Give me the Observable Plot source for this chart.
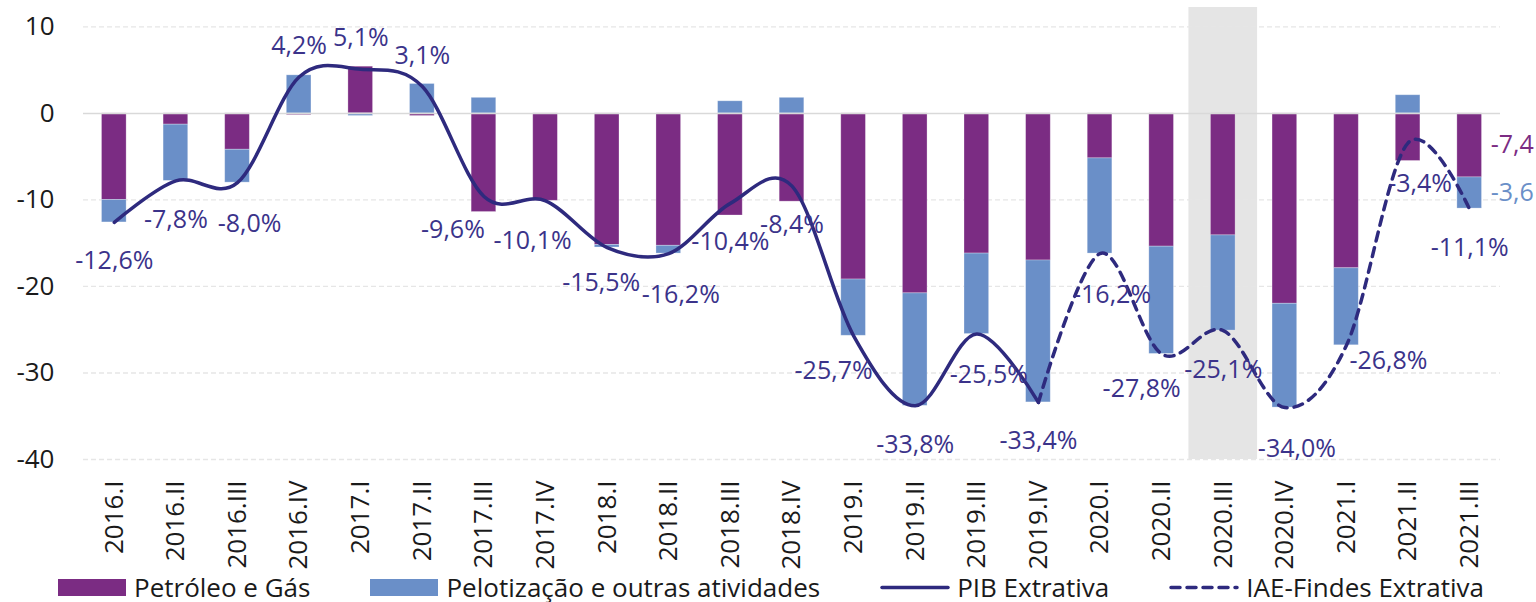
<!DOCTYPE html>
<html>
<head>
<meta charset="utf-8">
<script src="https://cdn.jsdelivr.net/npm/d3@7"></script>
<script src="https://cdn.jsdelivr.net/npm/@observablehq/plot@0.6"></script>
<style>
  html, body { margin: 0; padding: 0; background: #fff; overflow: hidden; }
  #chart svg { display: block; overflow: hidden; }
  #legend { display: flex; align-items: center; gap: 60px; padding-left: 58px; height: 30px;
            font-family: "Open Sans", sans-serif; font-size: 26px; color: #1a1a1a; white-space: nowrap; }
  #legend .item { display: flex; align-items: center; }
  #legend .sw { display: inline-block; width: 68px; height: 17px; margin-right: 8px; }
  #legend svg { margin-right: 7px; }
</style>
</head>
<body>
<div id="chart"></div>
<div id="legend"></div>
<script>
// ---- data ----
const quarters = ["2016.I","2016.II","2016.III","2016.IV","2017.I","2017.II","2017.III","2017.IV",
  "2018.I","2018.II","2018.III","2018.IV","2019.I","2019.II","2019.III","2019.IV",
  "2020.I","2020.II","2020.III","2020.IV","2021.I","2021.II","2021.III"];
const petroleoGas = [-10.0,-1.3,-4.2,-0.2,5.4,-0.3,-11.4,-10.1,-15.2,-15.3,-11.8,-10.2,
  -19.2,-20.8,-16.2,-17.0,-5.2,-15.4,-14.1,-22.0,-17.9,-5.5,-7.4];
const pelotizacao = [-2.6,-6.5,-3.8,4.4,-0.3,3.4,1.8,0.0,-0.3,-0.9,1.4,1.8,
  -6.5,-13.0,-9.3,-16.4,-11.0,-12.4,-11.0,-12.0,-8.9,2.1,-3.6];
const pibExtrativa = [-12.6,-7.8,-8.0,4.2,5.1,3.1,-9.6,-10.1,-15.5,-16.2,-10.4,-8.4,-25.7,-33.8,-25.5,-33.4];
const iaeFindesQuarters = ["2019.IV","2020.I","2020.II","2020.III","2020.IV","2021.I","2021.II","2021.III"];
const iaeFindes = [-33.4,-16.2,-27.8,-25.1,-34.0,-26.8,-3.4,-11.1];
const highlightQuarter = ["2020.III"];
const yTicks = [-40,-30,-20,-10,0,10];
// placement codes for the line's value labels (below / below-left / below-right / above / right ...)
const labelPlacement = ["b","b","br","a","a","a","L","bs","bs2","br","b","b","bl","b","br","b","br","bl","b","br","r","br","b"];

// ---- styles ----
const purple = "#7b2c83", blue = "#6a8fc8", navy = "#2e2a7e", labelColor = "#3b338a";
const yDomain = [-40, 12.24];
const placement = {b:[0,39], bl:[-20,35], L:[-31,34], bs:[-13,40], bs2:[-6,35], br:[12,41], a:[0,-31], r:[42,16]};

const bars = [];
quarters.forEach((q,i) => {
  bars.push({q, serie: "Petróleo e Gás", v: petroleoGas[i]});
  bars.push({q, serie: "Pelotização e outras atividades", v: pelotizacao[i]});
});
const pibData = pibExtrativa.map((v,i) => ({q: quarters[i], v}));
const iaeData = iaeFindes.map((v,i) => ({q: iaeFindesQuarters[i], v}));
const lineLabels = [...pibData, ...iaeData.slice(1)].map((d,i) => ({...d, p: labelPlacement[i]}));
const fmt = v => v.toFixed(1).replace(".", ",");
const last = quarters.length - 1;
const segLabels = [
  {q: quarters[last], y: petroleoGas[last]/2, t: fmt(petroleoGas[last]), c: purple},
  {q: quarters[last], y: petroleoGas[last] + pelotizacao[last]/2, t: fmt(pelotizacao[last]), c: blue}
];

const labelMarks = Object.entries(placement).map(([k,[dx,dy]]) =>
  Plot.text(lineLabels.filter(d => d.p === k), {x: "q", y: "v", text: d => fmt(d.v) + "%",
    dx, dy, fill: labelColor, fontSize: 25, fontFamily: "Open Sans"}));

const chart = Plot.plot({
  width: 1536,
  height: 572,
  marginLeft: 83,
  marginRight: 36,
  marginTop: 7,
  marginBottom: 113,
  style: {fontFamily: "Open Sans", background: "#fff", overflow: "hidden"},
  x: {domain: quarters, paddingInner: 0.6, paddingOuter: 0.3, round: false, label: null},
  y: {domain: yDomain, label: null},
  color: {domain: ["Petróleo e Gás", "Pelotização e outras atividades"], range: [purple, blue]},
  marks: [
    Plot.barY(highlightQuarter, {x: d => d, y1: yDomain[0], y2: yDomain[1], fill: "#e5e5e5", insetLeft: -22, insetRight: -22}),
    Plot.ruleY(yTicks.filter(d => d !== 0), {stroke: "#e6e6e6", strokeWidth: 1.3, strokeDasharray: "5,3"}),
    Plot.barY(bars, {x: "q", y: "v", fill: "serie", order: null, stroke: "#ffffff", strokeOpacity: 0.35, strokeWidth: 0.8}),
    Plot.ruleY([0], {stroke: "#d9d9d9", strokeWidth: 1.5}),
    Plot.axisY({ticks: yTicks, tickFormat: d => String(d), tickSize: 0, tickPadding: 29, fontSize: 26, color: "#1a1a1a", label: null}),
    Plot.axisX({tickRotate: -90, tickSize: 0, tickPadding: 21, fontSize: 26, color: "#1a1a1a", label: null}),
    Plot.line(pibData, {x: "q", y: "v", stroke: navy, strokeWidth: 3.5, curve: "cardinal"}),
    Plot.line(iaeData, {x: "q", y: "v", stroke: navy, strokeWidth: 3.5, curve: "cardinal", strokeDasharray: "9,7", strokeLinecap: "round"}),
    ...labelMarks,
    Plot.text(segLabels, {x: "q", y: "y", text: "t", fill: "c", dx: 21, textAnchor: "start", fontSize: 25, fontFamily: "Open Sans"})
  ]
});
document.getElementById("chart").appendChild(chart);

// ---- legend ----
const legend = document.getElementById("legend");
const items = [
  {label: "Petróleo e Gás", type: "rect", color: purple},
  {label: "Pelotização e outras atividades", type: "rect", color: blue},
  {label: "PIB Extrativa", type: "line", color: navy, dash: null},
  {label: "IAE-Findes Extrativa", type: "line", color: navy, dash: "9,7"}
];
items.forEach(it => {
  const el = document.createElement("div");
  el.className = "item";
  if (it.type === "rect") {
    el.innerHTML = `<span class="sw" style="background:${it.color}"></span><span>${it.label}</span>`;
  } else {
    el.innerHTML = `<svg width="70" height="17"><line x1="2" x2="68" y1="8.5" y2="8.5" stroke="${it.color}" stroke-width="3.5" stroke-linecap="round" ${it.dash ? `stroke-dasharray="${it.dash}"` : ""}/></svg><span>${it.label}</span>`;
  }
  legend.appendChild(el);
});
</script>
</body>
</html>
